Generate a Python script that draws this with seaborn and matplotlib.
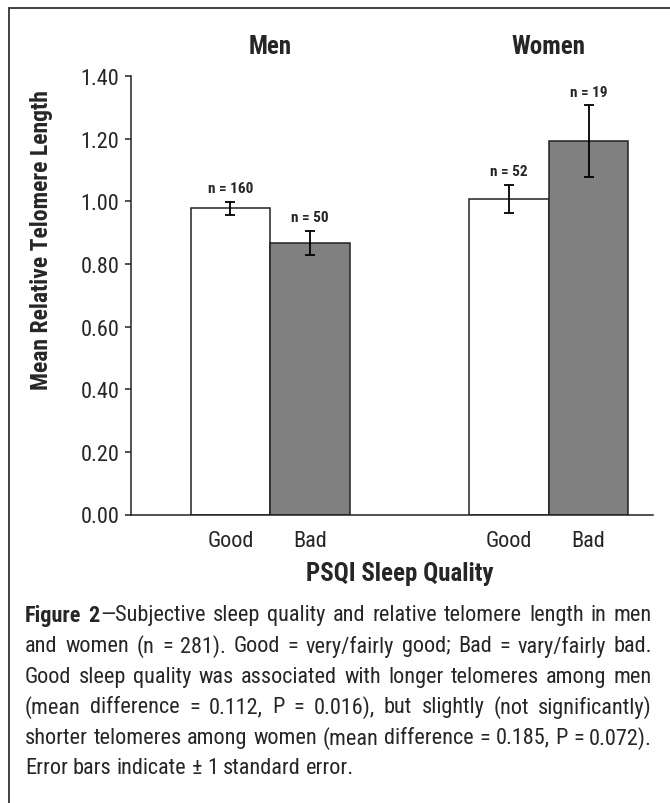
import numpy as np
import pandas as pd
import matplotlib
matplotlib.use("Agg")
import matplotlib.pyplot as plt
from matplotlib import font_manager
from matplotlib.patches import Rectangle
import seaborn as sns

# Data
groups = ["Men", "Men", "Women", "Women"]
quality = ["Good", "Bad", "Good", "Bad"]
means = [0.977, 0.866, 1.008, 1.192]
std_err = [0.022, 0.039, 0.045, 0.114]
n_labels = ["n = 160", "n = 50", "n = 52", "n = 19"]
y_ticks = [0.0, 0.2, 0.4, 0.6, 0.8, 1.0, 1.2, 1.4]

caption_lines = [
    [[("Figure", "bold")], [("2", "bold"), ("\u2014Subjective", "normal")], "sleep", "quality", "and",
     "relative", "telomere", "length", "in", "men"],
    "and women (n = 281). Good = very/fairly good; Bad = vary/fairly bad.",
    "Good sleep quality was associated with longer telomeres among men",
    "(mean difference = 0.112, P = 0.016), but slightly (not significantly)",
    "shorter telomeres among women (mean difference = 0.185, P = 0.072).",
    "Error bars indicate \u00b1 1 standard error.",
]

W, H = 670, 804

sns.set_style("ticks")
# narrow sans, like Arial Narrow in the original
names = {f.name for f in font_manager.fontManager.ttflist}
base_font = "Liberation Sans"
for cand in ["Liberation Sans Narrow", "Roboto Condensed", "Archivo Narrow", "Barlow Semi Condensed"]:
    if cand in names:
        base_font = cand
        break
plt.rcParams["font.family"] = [base_font, "DejaVu Sans"]

# bar positions: two bars per group with a gap between groups
group_idx = {"Men": 0, "Women": 1}
q_idx = {"Good": 0, "Bad": 1}
pos = [group_idx[g] * 3.5 + q_idx[q] for g, q in zip(groups, quality)]

df = pd.DataFrame({"pos": pos, "quality": quality, "mean": means, "se": std_err})

fig = plt.figure(figsize=(W / 100, H / 100), dpi=100)
ax = fig.add_axes([131 / W, 1 - 515.5 / H, 522 / W, 438.5 / H])

sns.barplot(data=df, x="pos", y="mean", hue="quality", native_scale=True,
            palette={"Good": "white", "Bad": "#808080"}, edgecolor="#222222",
            linewidth=1.1, width=1.0, errorbar=None, legend=False, ax=ax)
ax.errorbar(df["pos"], df["mean"], yerr=df["se"], fmt="none", ecolor="black",
            elinewidth=1.3, capsize=3.5, capthick=1.3, zorder=5)

for x, m, s, lab in zip(pos, means, std_err, n_labels):
    ax.text(x, m + s + 0.022, lab, ha="center", va="bottom", fontsize=11,
            fontweight="bold")

# group titles above the plot
for g in ["Men", "Women"]:
    xs = [p for p, gg in zip(pos, groups) if gg == g]
    ax.text(np.mean(xs), 1.497, g, ha="center", va="center", fontsize=18,
            fontweight="bold", clip_on=False)

ax.set_ylim(0, 1.4)
ax.set_xlim(-1.25, 5.31)
ax.set_yticks(y_ticks)
ax.set_yticklabels([f"{v:.2f}" for v in y_ticks], fontsize=16)
ax.set_xticks(pos)
ax.set_xticklabels(quality, fontsize=16)
ax.tick_params(axis="x", length=0, pad=11)
ax.tick_params(axis="y", length=4.5, width=1.1, pad=4, color="#222222")
ax.set_xlabel("")
ax.set_ylabel("")
sns.despine(ax=ax)
for sp in ["left", "bottom"]:
    ax.spines[sp].set_linewidth(1.1)
    ax.spines[sp].set_color("#222222")

fig.text(42 / W, 1 - 240 / H, "Mean Relative Telomere Length", rotation=90,
         ha="center", va="center", fontsize=17, fontweight="bold")
fig.text(400 / W, 1 - 574 / H, "PSQI Sleep Quality", ha="center", va="center",
         fontsize=18, fontweight="bold")

# outer frame (right and bottom edges fall outside the image)
fig.patches.append(Rectangle((8.5 / W, -0.05), 1.1, 1 - 8.5 / H + 0.05,
                             transform=fig.transFigure, fill=False,
                             edgecolor="#333333", linewidth=1.3))

# justified caption
renderer = fig.canvas.get_renderer()
left_px, right_px = 25, 652
first_line, line_step = 616, 30.6
cap_size = 16


def word_parts(w):
    return w if isinstance(w, list) else [(w, "normal")]


def part_width(text, weight):
    t = fig.text(0, 0, text, fontsize=cap_size, fontweight=weight)
    wpx = t.get_window_extent(renderer).width
    t.remove()
    return wpx


for i, line in enumerate(caption_lines):
    words = line.split(" ") if isinstance(line, str) else line
    parts = [word_parts(w) for w in words]
    widths = [[part_width(t, wt) for t, wt in p] for p in parts]
    total = sum(sum(w) for w in widths)
    if i < len(caption_lines) - 1:
        gap = (right_px - left_px - total) / (len(parts) - 1)
    else:
        gap = part_width("a b", "normal") - part_width("ab", "normal")
    x = left_px
    y = first_line + i * line_step
    for p, ws in zip(parts, widths):
        for (t, wt), wpx in zip(p, ws):
            fig.text(x / W, 1 - y / H, t, fontsize=cap_size, fontweight=wt,
                     ha="left", va="center")
            x += wpx
        x += gap

fig.savefig("out.png", dpi=100)
